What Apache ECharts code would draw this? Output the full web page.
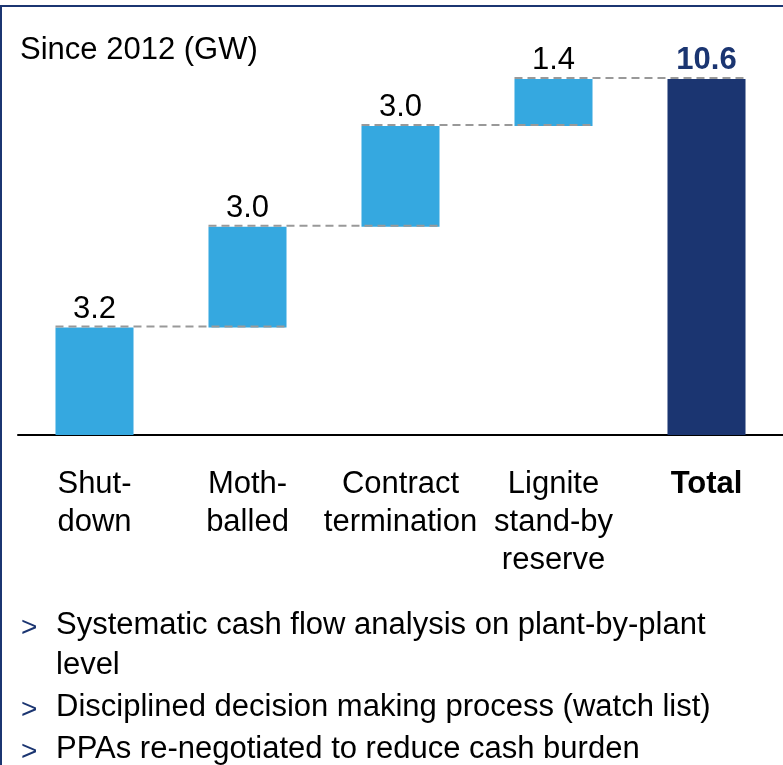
<!DOCTYPE html>
<html>
<head>
<meta charset="utf-8">
<script src="https://cdn.jsdelivr.net/npm/echarts@6/dist/echarts.min.js"></script>
<style>
  html, body { margin: 0; padding: 0; background: #fff; }
  #main { width: 783px; height: 765px; }
</style>
</head>
<body>
<div id="main"></div>
<script>
// data
var categories = ['Shut-\ndown', 'Moth-\nballed', 'Contract\ntermination', 'Lignite\nstand-by\nreserve', 'Total'];
var steps = [3.2, 3.0, 3.0, 1.4];
var total = 10.6;
var titleText = 'Since 2012 (GW)';
var bullets = [
  ['Systematic cash flow analysis on plant-by-plant', 'level'],
  ['Disciplined decision making process (watch list)'],
  ['PPAs re-negotiated to reduce cash burden']
];

var LIGHT = '#35a8e0';
var NAVY = '#1b3571';
var FONT = '"Liberation Sans", Arial, sans-serif';

// waterfall: invisible base + visible step
var base = [], vals = [], levels = [];
var run = 0;
for (var i = 0; i < steps.length; i++) {
  base.push(run);
  vals.push(steps[i]);
  run += steps[i];
  levels.push([i, Math.round(run * 10) / 10]);
}
base.push(0);
vals.push({ value: total, itemStyle: { color: NAVY } });

var BAR_RATIO = 0.51;

// frame, title and bullet text
var graphics = [
  { type: 'rect', left: 0, top: 5, shape: { width: 783, height: 2 }, style: { fill: NAVY } },
  { type: 'rect', left: 0, top: 5, shape: { width: 2, height: 760 }, style: { fill: NAVY } },
  { type: 'text', left: 20, top: 35, style: { text: titleText, font: '31px ' + FONT, fill: '#000' } }
];
var y = 610;
bullets.forEach(function (lines) {
  graphics.push({ type: 'text', left: 21, top: y + 4, style: { text: '>', font: '28px ' + FONT, fill: NAVY } });
  lines.forEach(function (ln) {
    graphics.push({ type: 'text', left: 56, top: y, style: { text: ln, font: '31px ' + FONT, fill: '#000' } });
    y += 40;
  });
  y += 2;
});

var myChart = echarts.init(document.getElementById('main'));
myChart.setOption({
  animation: false,
  grid: { left: 18, right: -2, top: 32, bottom: 330 },
  xAxis: {
    type: 'category',
    data: categories,
    axisLine: { lineStyle: { color: '#000', width: 2 } },
    axisTick: { show: false },
    axisLabel: {
      margin: 30,
      color: '#000',
      fontSize: 31,
      fontFamily: FONT,
      lineHeight: 38,
      interval: 0,
      formatter: function (v) { return v === 'Total' ? '{b|Total}' : v; },
      rich: { b: { fontWeight: 'bold', fontSize: 31, fontFamily: FONT, color: '#000' } }
    }
  },
  yAxis: { type: 'value', min: 0, max: 12, show: false },
  graphic: graphics,
  series: [
    {
      type: 'bar', stack: 'w', data: base, barWidth: BAR_RATIO * 100 + '%',
      itemStyle: { color: 'transparent' }, silent: true
    },
    {
      type: 'bar', stack: 'w', data: vals, barWidth: BAR_RATIO * 100 + '%',
      itemStyle: { color: LIGHT },
      label: {
        show: true, position: 'top', distance: 3,
        fontSize: 31, fontFamily: FONT, color: '#000',
        formatter: function (p) {
          var v = Number(p.value).toFixed(1);
          return p.dataIndex === categories.length - 1 ? '{t|' + v + '}' : v;
        },
        rich: { t: { fontSize: 31, fontFamily: FONT, fontWeight: 'bold', color: NAVY } }
      },
      z: 3
    },
    {
      type: 'custom',
      data: levels,
      z: 4,
      renderItem: function (params, api) {
        var idx = api.value(0), lv = api.value(1);
        var a = api.coord([idx, lv]);
        var b = api.coord([idx + 1, lv]);
        var w = api.size([1, 0])[0] * BAR_RATIO;
        return {
          type: 'line',
          shape: { x1: a[0] - w / 2, y1: a[1] - 1, x2: b[0] + w / 2, y2: b[1] - 1 },
          style: { stroke: '#999', lineWidth: 2, lineDash: [8, 5] }
        };
      }
    }
  ]
});
</script>
</body>
</html>
